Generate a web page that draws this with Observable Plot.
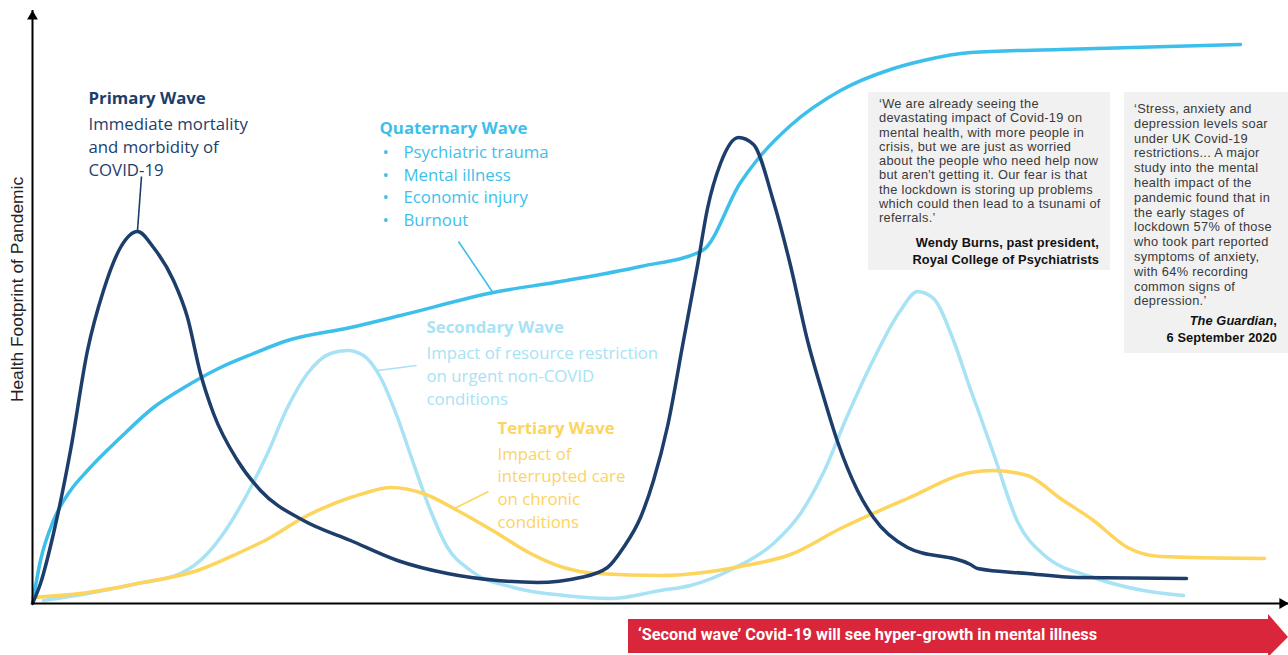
<!DOCTYPE html>
<html><head><meta charset="utf-8">
<script src="https://cdn.jsdelivr.net/npm/d3@7"></script>
<script src="https://cdn.jsdelivr.net/npm/@observablehq/plot@0.6"></script>
<style>
body{margin:0;background:#fff;}
#wrap{position:relative;width:1288px;height:655px;overflow:hidden;font-family:"Open Sans",sans-serif;}
#wrap svg{position:absolute;left:0;top:0;}
.quote{position:absolute;background:#f1f1f1;color:#3a3a3a;font-size:12.8px;box-sizing:border-box;font-family:"Liberation Sans",Arial,sans-serif;letter-spacing:0.3px;}
.quote .body{white-space:nowrap;}
.quote .attr{font-weight:bold;color:#111;text-align:right;line-height:17px;white-space:nowrap;letter-spacing:0.1px;}
#banner{position:absolute;left:628px;top:614px;width:660px;height:43px;background:#d9263a;
  clip-path:polygon(0 5px,640px 5px,640px 0,660px 23px,640px 43px,640px 39px,0 39px);
  color:#fff;font-weight:bold;font-size:16.3px;font-family:"Roboto",sans-serif;}
#banner span{position:absolute;left:10px;top:11px;white-space:nowrap;}
</style></head><body><div id="wrap"></div>
<script>
// ---- Data (x = time position, y = health footprint, arbitrary units) ----
const seriesNames = ["Quaternary Wave","Secondary Wave","Tertiary Wave","Primary Wave"];
const seriesColors = ["#3dbfeb","#a8e2f5","#fdd45c","#1d3e6b"];

const primaryX = [0,8,21,38,55,71,88,105,121,141,155,168,181,205,228,271,318,365,415,465,505,548,575,591,608,621,635,651,665,675,688,706,721,741,758,775,791,805,825,841,875,938,945,995,1045,1154];
const primaryY = [0,20,70,153,253,313,356,372,356,323,286,230,190,143,113,83,63,43,30,23,21,26,36,56,86,123,177,263,338,395,440,466,459,402,338,263,207,162,113,86,56,39,35,30,26,25];

const quaternaryX = [0,8,21,38,55,88,121,155,188,221,255,318,368,461,528,608,670,708,725,758,808,858,891,938,1028,1208];
const quaternaryY = [0,43,83,113,133,166,196,218,236,250,263,276,288,311,322,337,353,421,444,478,513,534,543,551,554,559];

const secondaryX = [11,55,105,148,175,195,215,235,255,275,298,315,331,348,365,381,398,415,438,481,531,578,628,658,701,741,768,791,815,841,868,885,901,921,938,945,961,985,1011,1061,1111,1151];
const secondaryY = [3,10,20,30,50,76,110,150,196,230,250,253,248,226,186,140,93,56,33,16,8,5,13,18,35,60,90,131,188,244,293,312,305,263,214,195,150,82,49,26,13,8];

const tertiaryX = [0,55,105,165,205,238,271,318,331,358,391,425,465,498,531,565,628,708,758,808,875,938,961,995,1028,1061,1095,1128,1232];
const tertiaryY = [6,11,20,33,50,66,86,106,110,116,110,93,70,50,36,30,28,37,49,75,105,131,133,128,105,83,56,47,45];

const seriesX = [quaternaryX, secondaryX, tertiaryX, primaryX];
const seriesY = [quaternaryY, secondaryY, tertiaryY, primaryY];

// ---- Texts ----
const yAxisLabel = "Health Footprint of Pandemic";
const annoTitles = ["Primary Wave","Quaternary Wave","Secondary Wave","Tertiary Wave"];
const annoBodies = [
  "Immediate mortality\nand morbidity of\nCOVID-19",
  null,
  "Impact of resource restriction\non urgent non-COVID\nconditions",
  "Impact of\ninterrupted care\non chronic\nconditions"
];
const quaternaryBullets = ["Psychiatric trauma","Mental illness","Economic injury","Burnout"];
const annoColors = ["#1d3e6b","#3dbfeb","#a8e2f5","#fdd45c"];

const quote1Lines = ["‘We are already seeing the","devastating impact of Covid-19 on","mental health, with more people in","crisis, but we are just as worried","about the people who need help now","but aren't getting it. Our fear is that","the lockdown is storing up problems","which could then lead to a tsunami of","referrals.’"];
const quote1Attr = ["Wendy Burns, past president,","Royal College of Psychiatrists"];
const quote2Lines = ["‘Stress, anxiety and","depression levels soar","under UK Covid-19","restrictions... A major","study into the mental","health impact of the","pandemic found that in","the early stages of","lockdown 57% of those","who took part reported","symptoms of anxiety,","with 64% recording","common signs of","depression.’"];
const quote2Attr = ["<i>The Guardian</i>,","6 September 2020"];
const bannerText = "‘Second wave’ Covid-19 will see hyper-growth in mental illness";

// ---- Layout (pixel positions of annotations) ----
const W = 1288, H = 655, ML = 32, MT = 10, MB = 52;
const X0 = 32, Y0 = 603;
const px = v => v - X0, py = v => Y0 - v;
const titlePos = [[88,98],[379,128],[426,327],[497,428]];
const bodyPos = [[88,145],null,[426,374],[497,486]];
const bulletCenters = [152,175,197,220];
const leaders = [[141,176,137,230],[458,241,493,293],[377,370,416,365],[454,508,488,491]];

// ---- Build rows ----
const rows = [];
seriesNames.forEach((s,i)=>seriesX[i].forEach((x,j)=>rows.push({series:s,x,y:seriesY[i][j]})));

const titleRows = annoTitles.map((t,i)=>({t,x:px(titlePos[i][0]),y:py(titlePos[i][1]),c:annoColors[i]}));
const bodyRows = annoBodies.map((t,i)=>t?({t,x:px(bodyPos[i][0]),y:py(bodyPos[i][1]),c:annoColors[i]}):null).filter(d=>d);
const bulletRows = quaternaryBullets.map((t,i)=>({t,y:py(bulletCenters[i])}));
const leaderRows = leaders.map((l,i)=>({x1:px(l[0]),y1:py(l[1]),x2:px(l[2]),y2:py(l[3]),c:annoColors[i]}));

const FONT = "Open Sans";
const FS = 16.8;
const plot = Plot.plot({
  width: W, height: H,
  marginLeft: ML, marginRight: 0, marginTop: MT, marginBottom: MB,
  x: {domain:[0, W-X0], axis:null},
  y: {domain:[0, Y0-MT], axis:null},
  color: {domain: seriesNames, range: seriesColors},
  style: {background:"transparent", overflow:"visible"},
  marks: [
    Plot.line(rows, {x:"x", y:"y", z:"series", stroke:"series", strokeWidth:3.5, curve:"monotone-x", strokeLinecap:"round"}),
    Plot.link(leaderRows, {x1:"x1", y1:"y1", x2:"x2", y2:"y2", stroke:"c", strokeWidth:1.6}),
    Plot.ruleY([0], {stroke:"#000", strokeWidth:2}),
    Plot.ruleX([0], {stroke:"#000", strokeWidth:2}),
    Plot.dot([{x:W-X0-6,y:0}], {x:"x", y:"y", symbol:"triangle", r:4, fill:"#000", rotate:90}),
    Plot.dot([{x:0,y:Y0-MT-6}], {x:"x", y:"y", symbol:"triangle", r:4, fill:"#000"}),
    Plot.text([yAxisLabel], {x:-15, y:py(289), text:d=>d, rotate:-90, fontSize:17.4, fill:"#222", fontFamily:"Liberation Sans"}),
    Plot.text(titleRows, {x:"x", y:"y", text:"t", fill:"c", textAnchor:"start", fontSize:FS, fontWeight:"bold", fontFamily:FONT}),
    Plot.text(bodyRows, {x:"x", y:"y", text:"t", fill:"c", textAnchor:"start", fontSize:FS, lineHeight:1.36, fontFamily:FONT}),
    Plot.text(bulletRows, {x:px(382), y:"y", text:()=>"•", fill:annoColors[1], textAnchor:"start", fontSize:FS, fontFamily:FONT}),
    Plot.text(bulletRows, {x:px(403), y:"y", text:"t", fill:annoColors[1], textAnchor:"start", fontSize:FS, fontFamily:FONT})
  ]
});
const wrap = document.getElementById("wrap");
wrap.appendChild(plot);

function quote(left, top, width, height, pad, lines, lh, attr, attrGap){
  const d = document.createElement("div");
  d.className = "quote";
  Object.assign(d.style,{left:left+"px",top:top+"px",width:width+"px",height:height+"px",padding:pad});
  d.innerHTML = `<div class="body" style="line-height:${lh}px">${lines.join("<br>")}</div><div class="attr" style="margin-top:${attrGap}px">${attr.join("<br>")}</div>`;
  wrap.appendChild(d);
}
quote(868, 92, 242, 178, "5px 11px 0 11px", quote1Lines, 14.3, quote1Attr, 8);
quote(1124, 92, 164, 261, "10px 11px 0 10px", quote2Lines, 14.8, quote2Attr, 3);

const b = document.createElement("div");
b.id = "banner";
b.innerHTML = `<span>${bannerText}</span>`;
wrap.appendChild(b);
</script>
</body></html>
